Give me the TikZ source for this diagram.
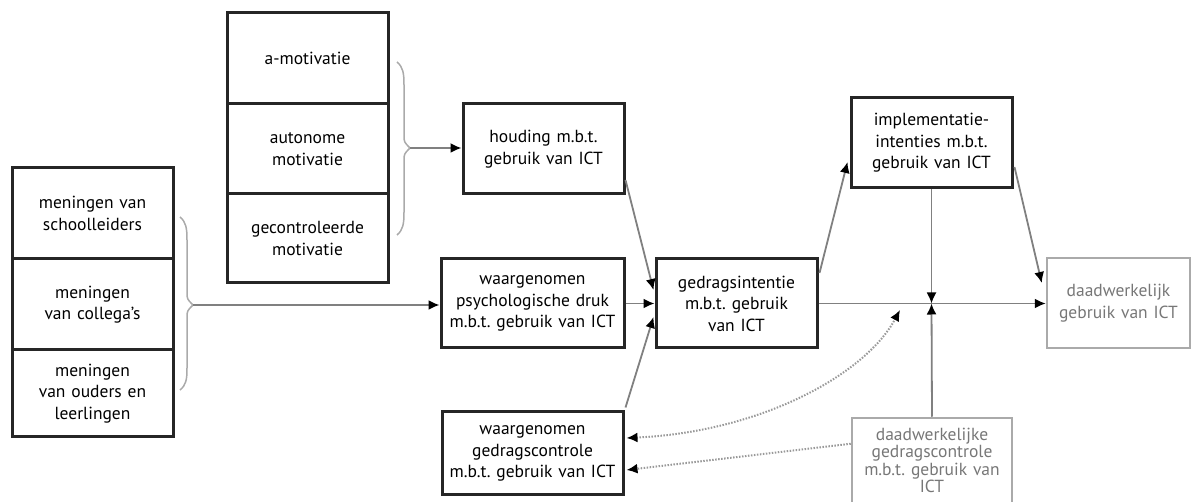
\documentclass[tikz,border=0pt]{standalone}
\usepackage{fontspec}
\setmainfont{PT Sans}
\usetikzlibrary{arrows.meta,calc}
\definecolor{lgray}{HTML}{AAAAAA}
\definecolor{tgray}{HTML}{777777}
\definecolor{cgray}{HTML}{808080}
\definecolor{dgray}{HTML}{999999}
\begin{document}
\begin{tikzpicture}[x=1pt,y=-1pt,
  box/.style={draw=black!85, line width=3pt, align=center, inner sep=0pt, anchor=center,
    font=\fontsize{17.5}{21.5}\selectfont},
  gbox/.style={draw=lgray, line width=2.5pt, align=center, inner sep=0pt, anchor=center,
    text=tgray, font=\fontsize{17.5}{21.5}\selectfont},
  tip/.style={-{Latex[length=11pt,width=10pt,color=black]}},
  conn/.style={draw=cgray, line width=1.8pt, tip},
  dots/.style={draw=dgray, line width=2pt, dash pattern=on 1.5pt off 1.5pt},
  brc/.style={draw=lgray, line width=1.5pt}
]
\useasboundingbox (0,0) rectangle (1195,502);
% left column
\node[box, minimum width=161pt, minimum height=91pt, text width=158pt] (m1) at (92.5,213.5) {meningen van\\schoolleiders};
\node[box, minimum width=161pt, minimum height=91pt, text width=158pt] (m2) at (92.5,304.5) {meningen\\van collega’s};
\node[box, minimum width=161pt, minimum height=87pt, text width=158pt] (m3) at (92.5,393.5) {meningen\\van ouders en\\leerlingen};
% top column
\node[box, minimum width=161pt, minimum height=91pt, text width=158pt] (a1) at (307.5,58.5) {a-motivatie};
\node[box, minimum width=161pt, minimum height=90pt, text width=158pt] (a2) at (307.5,149) {autonome\\motivatie};
\node[box, minimum width=161pt, minimum height=89pt, text width=158pt] (a3) at (307.5,238.5) {gecontroleerde\\motivatie};
% main boxes
\node[box, minimum width=161pt, minimum height=90pt, text width=158pt] (houd) at (543.5,149) {houding m.b.t.\\gebruik van ICT};
\node[box, minimum width=183pt, minimum height=89pt, text width=180pt] (psych) at (532.5,303.5) {waargenomen\\psychologische druk\\m.b.t.\ gebruik van ICT};
\node[box, minimum width=161pt, minimum height=89pt, text width=158pt] (gedrag) at (736.5,303.5) {gedragsintentie\\m.b.t.\ gebruik\\van ICT};
\node[box, minimum width=161pt, minimum height=90pt, text width=158pt] (impl) at (931.5,143) {implementatie-\\intenties m.b.t.\\gebruik van ICT};
\node[gbox, minimum width=143pt, minimum height=90pt, text width=140pt] (daad) at (1118.5,303) {daadwerkelijk\\gebruik van ICT};
\node[box, minimum width=181pt, minimum height=83pt, text width=178pt] (contr) at (532.5,453.5) {waargenomen\\gedragscontrole\\m.b.t.\ gebruik van ICT};
\node[gbox, minimum width=160pt, minimum height=100pt, text width=157pt, font=\fontsize{17.5}{17.5}\selectfont] (act) at (932,468) {daadwerkelijke\\gedragscontrole\\m.b.t.\ gebruik van\\ICT\\[-2pt]\phantom{x}};
% braces
\coordinate (b1) at (193,305);
\coordinate (b2) at (410,148);
\draw[brc] (180,217) .. controls (186,222) and (187,228) .. (187,240) -- (187,292) .. controls (187,299) .. (193,305)
  .. controls (187,311) .. (187,318) -- (187,368) .. controls (187,380) and (186,385) .. (180,390);
\draw[brc] (397,62) .. controls (403,67) and (404,73) .. (404,85) -- (404,135) .. controls (404,142) .. (410,148)
  .. controls (404,154) .. (404,161) -- (404,212) .. controls (404,224) and (403,230) .. (397,235);
% connectors
\draw[conn] (b1) -- (b1 -| psych.west);
\draw[conn] (b2) -- (b2 -| houd.west);
\draw[conn] ($(houd.east)+(0,31)$) -- ($(gedrag.west)+(-1,-13.5)$);
\draw[conn] (psych.east) -- (gedrag.west);
\draw[conn] ($(contr.north east)+(1,-3)$) -- ($(gedrag.west)+(-1,13.5)$);
\draw[conn] ($(gedrag.east)+(1,-30.5)$) -- ($(impl.west)+(-2,19)$);
\draw[conn] (gedrag.east) -- (gedrag.east -| daad.west);
\draw[conn] ($(impl.east)+(1,24)$) -- ($(daad.west)+(-4,-20)$);
\coordinate (j) at (impl.south |- gedrag.east);
\draw[conn] (impl.south) -- (j);
\draw[conn] (act.north) -- (j);
\coordinate (dc) at (900,310);
\draw[dots, {Latex[length=11pt,width=10pt,color=black]}-{Latex[length=11pt,width=10pt,color=black]}]
  ($(contr.east)+(2,-15.5)$) .. controls (760,432) and (865,375) .. (dc);
\draw[dots, tip] ($(act.north west)+(0,27)$) -- ($(contr.east)+(2,16.5)$);
\end{tikzpicture}
\end{document}
